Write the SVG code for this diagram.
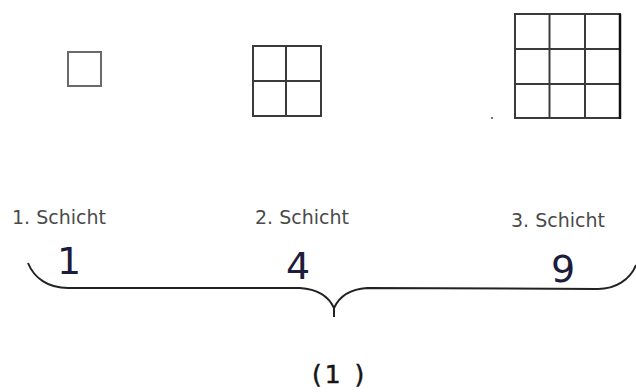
<svg xmlns="http://www.w3.org/2000/svg" width="636" height="392" viewBox="0 0 636 392">
<style>
.g{fill:none;stroke:#3a3a3a;stroke-width:2}
.lbl{font-family:"DejaVu Sans",Verdana,sans-serif;font-size:19px;fill:#4a4a4a}
.num{font-family:"DejaVu Sans",Verdana,sans-serif;font-size:38px;fill:#1c1c3c}
.br{fill:none;stroke:#222;stroke-width:2}
</style>
<rect width="636" height="392" fill="#fff"/>
<g id="layer1">
<rect x="68" y="52" width="33" height="34" fill="none" stroke="#6a6a6a" stroke-width="2"/>
<text class="lbl" x="12" y="224">1. Schicht</text>
<text class="num" x="57" y="274">1</text>
</g>
<g id="layer2">
<rect class="g" x="253" y="46" width="68" height="70"/>
<line class="g" x1="286" y1="46" x2="286" y2="116"/>
<line class="g" x1="253" y1="81" x2="321" y2="81"/>
<text class="lbl" x="255" y="224">2. Schicht</text>
<text class="num" x="286" y="279">4</text>
</g>
<g id="layer3">
<rect class="g" x="515" y="14" width="105" height="104"/>
<line class="g" x1="549.5" y1="14" x2="549.5" y2="118"/>
<line class="g" x1="585" y1="14" x2="585" y2="118"/>
<line class="g" x1="515" y1="49" x2="620" y2="49"/>
<line class="g" x1="515" y1="84" x2="620" y2="84"/>
<line x1="620" y1="14" x2="620" y2="119" stroke="#111" stroke-width="2.5"/>
<rect x="491" y="117" width="2" height="2" fill="#777"/>
<text class="lbl" x="511" y="227">3. Schicht</text>
<text class="num" x="551" y="282">9</text>
</g>
<g id="connectors">
<path class="br" d="M28,263 C34,278 48,288 68,288 L300,288 C315,289 328,295 334,308 L334,317 M334,308 C340,295 352,289 367,288 L598,289 C615,289 630,280 636,265"/>
</g>
<g id="total">
<text x="312" y="383" font-family="DejaVu Sans,Verdana,sans-serif" font-size="25" fill="#151515" stroke="#151515" stroke-width="0.5" xml:space="preserve" letter-spacing="3">(1 )</text>
</g>
</svg>
